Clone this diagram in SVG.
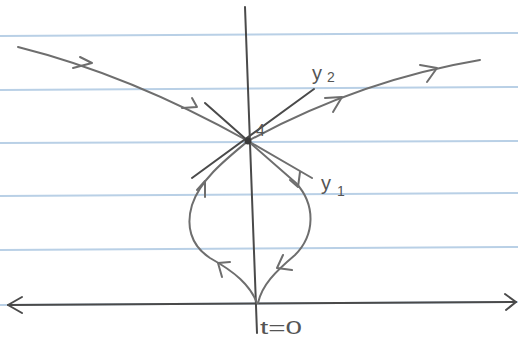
<svg xmlns="http://www.w3.org/2000/svg" width="518" height="339" viewBox="0 0 518 339">
<style>
.rule{stroke:#b9d0e6;stroke-width:2;fill:none}
.pen{stroke:#6e6e6e;stroke-width:2;fill:none;stroke-linecap:round;stroke-linejoin:round}
.dark{stroke:#4a4a4a;stroke-width:2;fill:none;stroke-linecap:round;stroke-linejoin:round}
.lbl{font-family:"Liberation Sans",Arial,sans-serif;fill:#555}
</style>
<rect width="518" height="339" fill="#ffffff"/>
<g id="paper-rules">
<line class="rule" x1="0" y1="36" x2="518" y2="33"/>
<line class="rule" x1="0" y1="90" x2="518" y2="87"/>
<line class="rule" x1="0" y1="143" x2="518" y2="141"/>
<line class="rule" x1="0" y1="196" x2="518" y2="193"/>
<line class="rule" x1="0" y1="250" x2="518" y2="247"/>
<line class="rule" x1="0" y1="305" x2="518" y2="302"/>
</g>
<g id="axes">
<line class="dark" x1="245" y1="7" x2="257" y2="333"/>
<line class="dark" x1="8" y1="305" x2="516" y2="302"/>
<polyline class="dark" points="22,297 8,305 22,313"/>
<polyline class="dark" points="505,294 516,302 506,310"/>
</g>
<g id="connectors">
<path class="pen" d="M18,47 Q130,75 248,141 L312,178"/>
<line class="dark" x1="205" y1="103" x2="248" y2="141"/>
<path class="pen" d="M248,141 Q360,80 480,60"/>
<line class="dark" x1="192" y1="178" x2="314" y2="89"/>
<path class="pen" d="M248,141 C225,160 200,180 192,205 C186,225 190,245 210,258 C235,272 250,285 257,303"/>
<path class="pen" d="M248,141 L296,183 C316,205 315,235 295,255 C275,272 262,285 258,303"/>
<polyline class="pen" points="80,57 92,63 73,68"/>
<polyline class="pen" points="192,98 197,107 182,108"/>
<polyline class="pen" points="325,98 342,97 333,112"/>
<polyline class="pen" points="420,65 437,68 427,82"/>
<polyline class="pen" points="290,180 298,187 300,172"/>
<polyline class="pen" points="197,190 205,181 205,197"/>
<polyline class="pen" points="230,262 218,263 222,277"/>
<polyline class="pen" points="283,255 277,268 292,270"/>
<circle cx="248" cy="141" r="3.5" fill="#3a3a3a"/>
</g>
<g id="labels">
<text class="lbl" x="312" y="80" font-size="20">y</text>
<text class="lbl" x="327" y="82" font-size="14">2</text>
<text class="lbl" x="321" y="190" font-size="20">y</text>
<text class="lbl" x="337" y="196" font-size="14">1</text>
<text class="lbl" x="256" y="136" font-size="16" fill="#333">4</text>
<text class="lbl" x="260" y="334" font-size="18" textLength="42" lengthAdjust="spacingAndGlyphs">t=0</text>
</g>
</svg>
